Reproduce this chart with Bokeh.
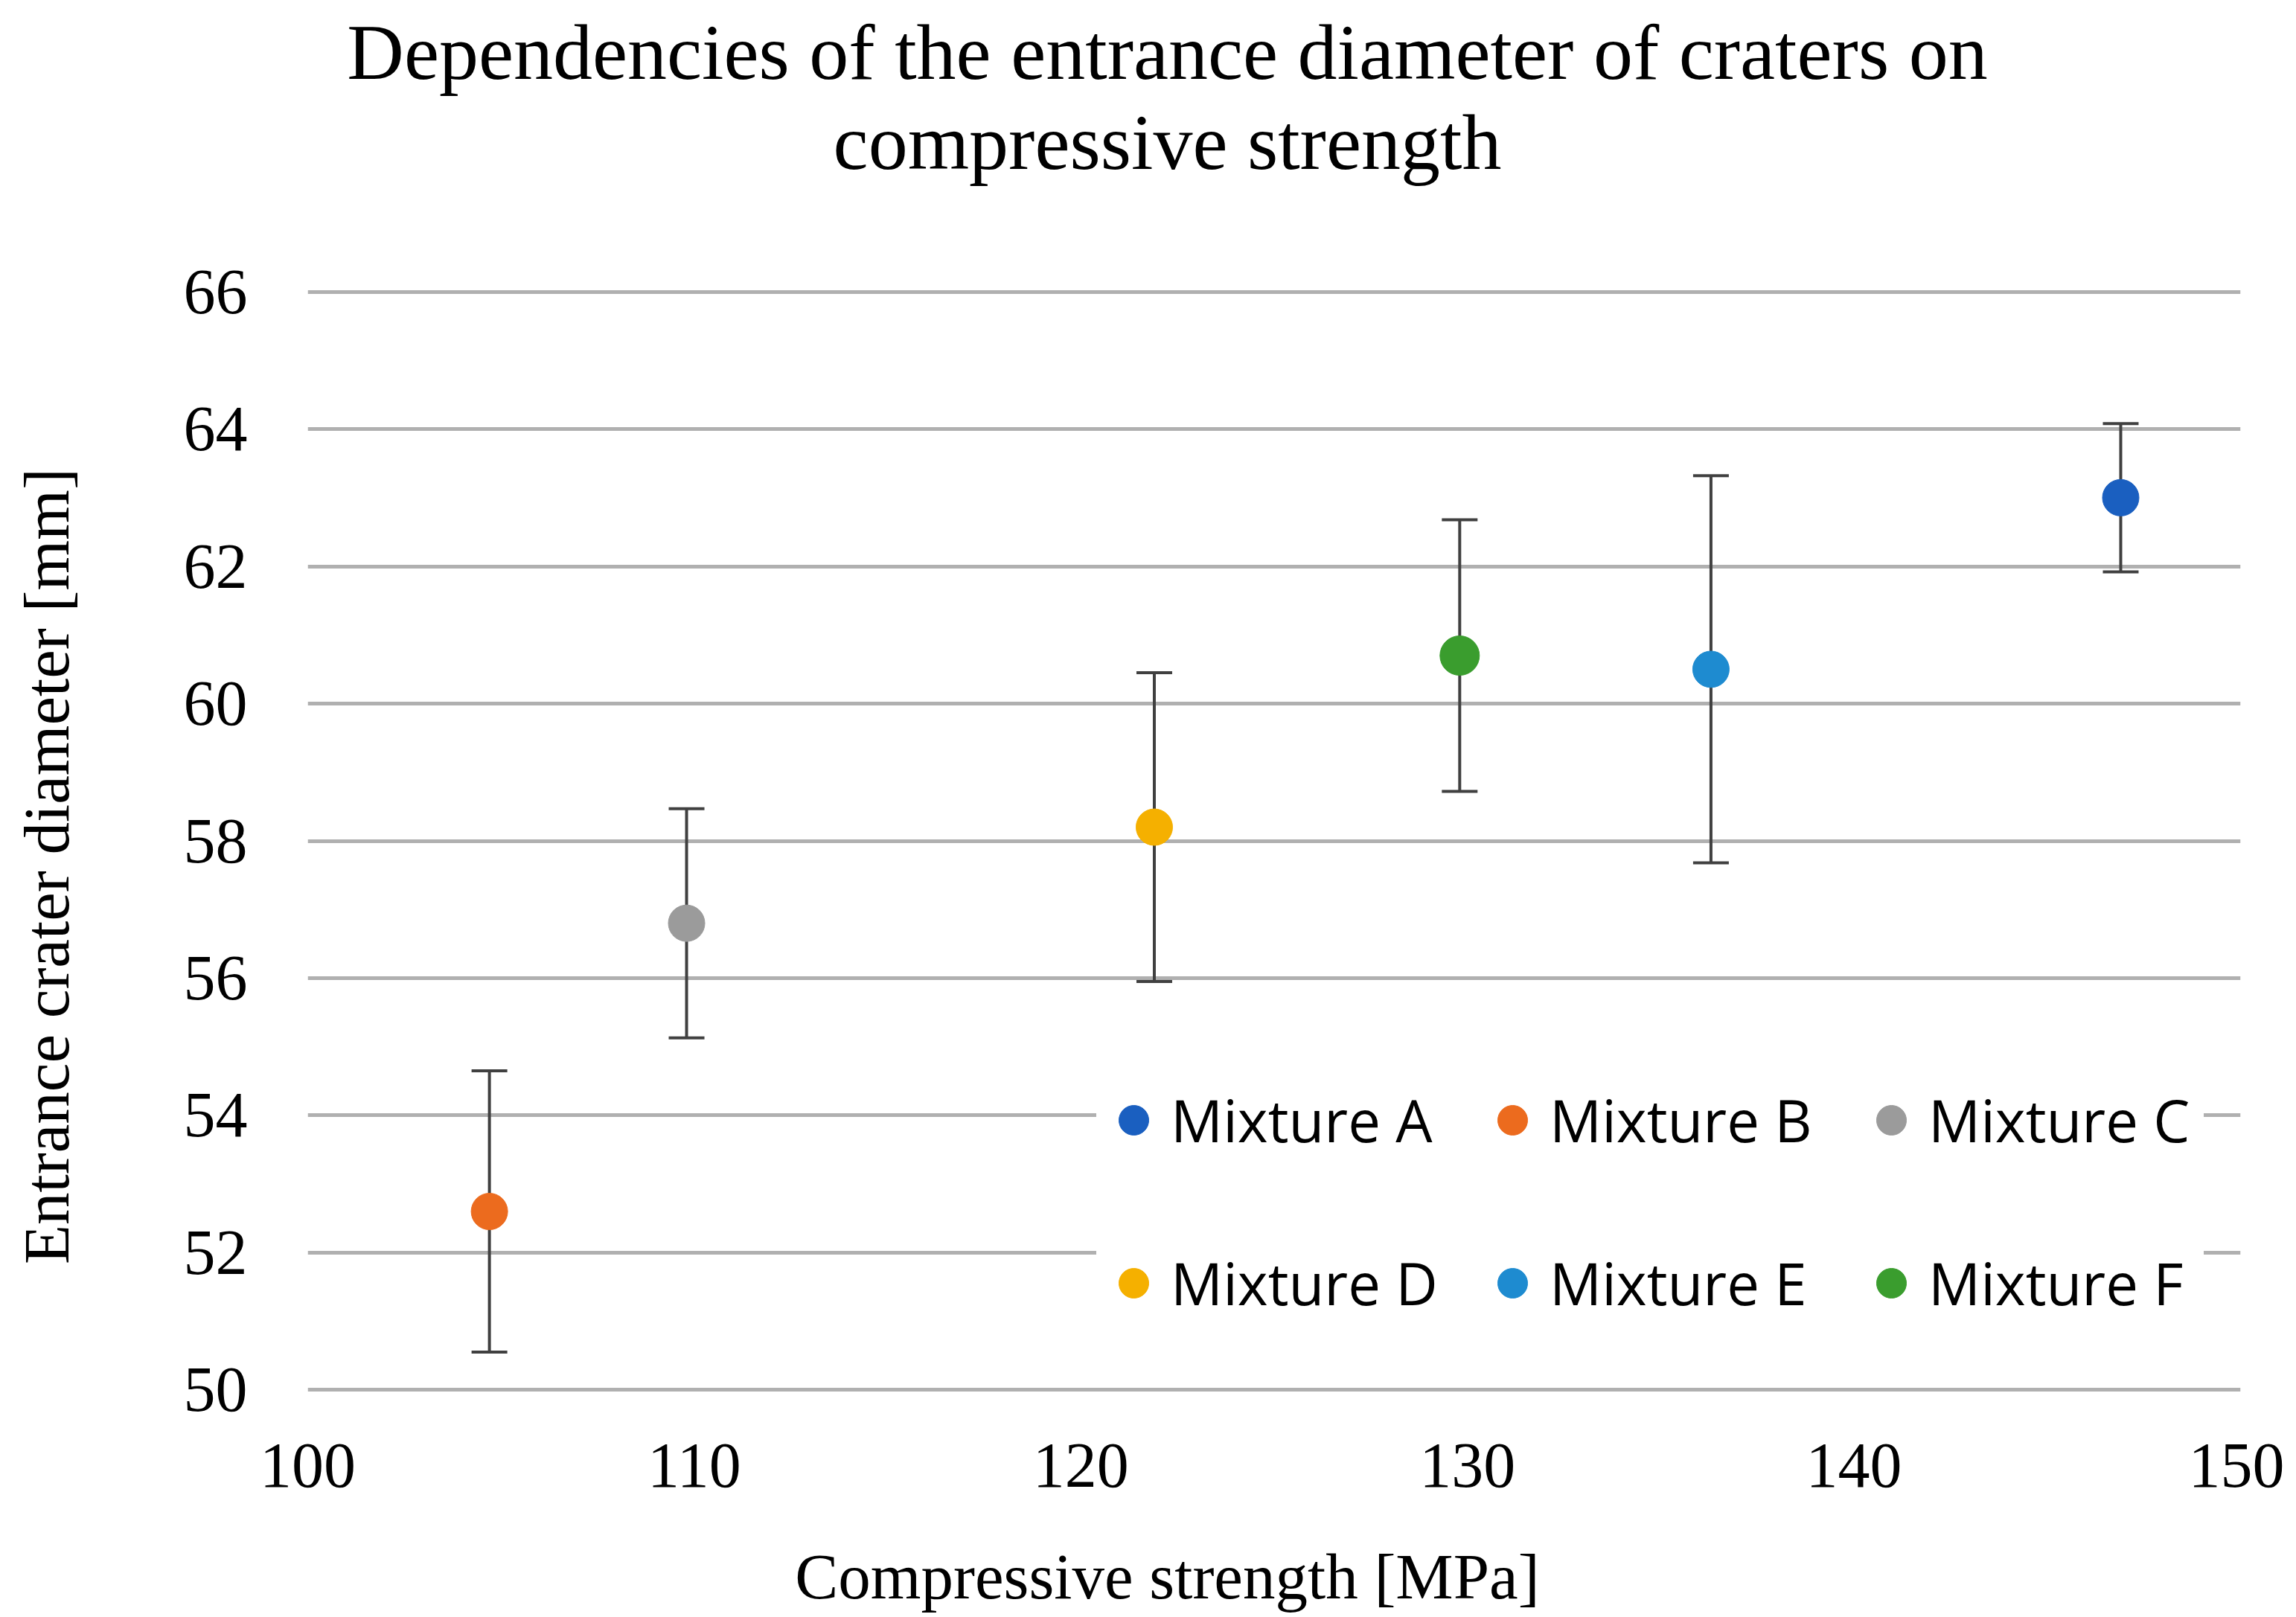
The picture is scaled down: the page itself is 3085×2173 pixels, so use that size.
from math import pi
from bokeh.plotting import figure
from bokeh.layouts import column, row
from bokeh.models import (ColumnDataSource, Whisker, TeeHead, Legend, LegendItem,
                          Label, FixedTicker, Range1d)
from bokeh.embed import file_html
from bokeh.resources import INLINE

# data
mixtures = ["Mixture A", "Mixture B", "Mixture C", "Mixture D", "Mixture E", "Mixture F"]
strength = [146.9, 104.7, 109.8, 121.9, 136.3, 129.8]      # MPa
diameter = [63.0, 52.6, 56.8, 58.2, 60.5, 60.7]            # mm
error = [1.08, 2.05, 1.67, 2.25, 2.82, 1.98]               # +/- mm
colors = ["#1a5fc0", "#ec6b1e", "#9b9b9b", "#f5b000", "#1e8bd0", "#3a9d2e"]

x_ticks = [100, 110, 120, 130, 140, 150]
y_ticks = [50, 52, 54, 56, 58, 60, 62, 64, 66]

title_lines = ["Dependencies of the entrance diameter of craters on", "compressive strength"]
x_label = "Compressive strength [MPa]"
y_label = "Entrance crater diameter [mm]"

SERIF = "Liberation Serif"
W, H = 3069, 2170
TOP_H, MID_H = 328, 1717
LEFT_W = 138


def text_panel(w, h):
    # blank figure whose frame fills the canvas, used to hold the titles
    f = figure(width=w, height=h, output_backend="svg", toolbar_location=None,
               x_range=Range1d(0, w), y_range=Range1d(0, h),
               x_axis_type=None, y_axis_type=None, min_border=0)
    f.outline_line_color = None
    return f


# --- title
top = text_panel(W, TOP_H)
top.add_layout(Label(x=1568, y=TOP_H - 70, text=title_lines[0], text_align="center",
                     text_baseline="middle", text_font=SERIF, text_font_size="106px",
                     text_color="black"))
top.add_layout(Label(x=1568, y=TOP_H - 191, text=title_lines[1], text_align="center",
                     text_baseline="middle", text_font=SERIF, text_font_size="106px",
                     text_color="black"))

# --- y axis title
left = text_panel(LEFT_W, MID_H)
left.add_layout(Label(x=62, y=TOP_H + MID_H - 1226, text=y_label, angle=pi / 2,
                      text_align="center", text_baseline="middle", text_font=SERIF,
                      text_font_size="87px", text_color="black"))

# --- x axis title
bottom = text_panel(W, H - TOP_H - MID_H)
bottom.add_layout(Label(x=1568, y=H - 2118, text=x_label, text_align="center",
                        text_baseline="middle", text_font=SERIF, text_font_size="87px",
                        text_color="black"))

# --- main plot (ranges a hair wider than the ticks so the 50 and 66 grid lines show)
p = figure(width=W - LEFT_W, height=MID_H, output_backend="svg", toolbar_location=None,
           x_range=Range1d(100, 150), y_range=Range1d(49.96, 66.04),
           min_border_left=413 - LEFT_W, min_border_right=W - 3010,
           min_border_top=388 - TOP_H, min_border_bottom=TOP_H + MID_H - 1871)

src = ColumnDataSource(data=dict(
    x=strength, y=diameter,
    upper=[d + e for d, e in zip(diameter, error)],
    lower=[d - e for d, e in zip(diameter, error)],
))
wh = Whisker(base="x", upper="upper", lower="lower", source=src,
             line_color="#404040", line_width=4,
             upper_head=TeeHead(size=48, line_color="#404040", line_width=4),
             lower_head=TeeHead(size=48, line_color="#404040", line_width=4))
p.add_layout(wh)

items = []
for name, xv, yv, c in zip(mixtures, strength, diameter, colors):
    size = 53 if name == "Mixture F" else 49
    r = p.scatter([xv], [yv], size=size, fill_color=c, line_color=c)
    items.append(LegendItem(label=name, renderers=[r]))

legend = Legend(items=items, location=(1060, 57), orientation="horizontal", ncols=3,
                glyph_width=100, glyph_height=180, label_height=180,
                label_standoff=0, label_width=370, spacing=39, padding=20, margin=0,
                border_line_color=None, background_fill_color="white",
                background_fill_alpha=1.0,
                label_text_font="Open Sans", label_text_font_size="78px",
                label_text_color="black")
p.add_layout(legend, "center")

p.xaxis.ticker = FixedTicker(ticks=x_ticks)
p.yaxis.ticker = FixedTicker(ticks=y_ticks)
for ax in (p.xaxis, p.yaxis):
    ax.axis_line_color = None
    ax.major_tick_line_color = None
    ax.minor_tick_line_color = None
    ax.major_label_text_font = SERIF
    ax.major_label_text_font_size = "86px"
    ax.major_label_text_color = "black"
p.xaxis.major_label_standoff = 63
p.yaxis.major_label_standoff = 75

p.xgrid.grid_line_color = None
p.ygrid.grid_line_color = "#b0b0b0"
p.ygrid.grid_line_width = 5
p.outline_line_color = None

layout = column(top, row(left, p), bottom)
open("out.html", "w").write(file_html(layout, INLINE))
